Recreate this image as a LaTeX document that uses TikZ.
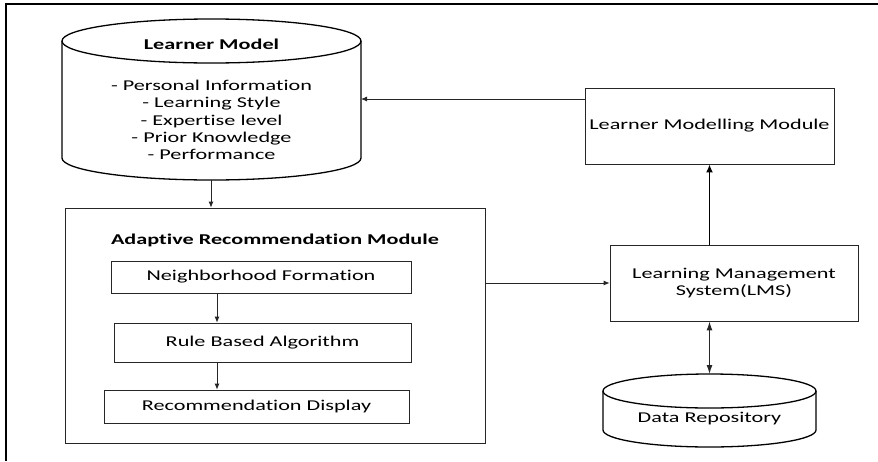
\documentclass[tikz,border=0pt]{standalone}
\usepackage{fontspec}
\setmainfont{Carlito}[FakeStretch=1.48, Ligatures=NoCommon]
\usetikzlibrary{arrows.meta}
\tikzset{
  box/.style={draw=black!85, line width=0.8pt, inner sep=0pt},
  cyl/.style={draw=black, line width=1.3pt},
  link/.style={draw=black!85, line width=0.8pt, -{Latex[length=6pt,width=5pt]}},
  boldlink/.style={draw=black, line width=1.5pt, -{Latex[length=8pt,width=7pt]}},
  dbllink/.style={draw=black!85, line width=1.2pt, {Latex[length=9pt,width=6pt]}-{Latex[length=9pt,width=6pt]}},
  txt/.style={font=\fontsize{15}{17.3}\selectfont, align=center, inner sep=0pt}
}
\begin{document}
\begin{tikzpicture}[x=1pt,y=-1pt]
\useasboundingbox (0,0) rectangle (878,461);
% outer frame
\draw[line width=2.2pt] (6,461) -- (6,4) -- (878,4);

% Learner Model store
\draw[cyl] (211.5,41) ellipse [x radius=149.5, y radius=22];
\draw[cyl] (62,41) -- (62,158) arc[start angle=180, end angle=0, x radius=149.5, y radius=22] -- (361,41);
\node[txt, font=\fontsize{15}{17.3}\selectfont\bfseries] (lmtitle) at (211.5,44) {Learner Model};
\node[txt] (lmitems) at (211.5,120) {- Personal Information\\- Learning Style\\- Expertise level\\- Prior Knowledge\\- Performance};
\coordinate (lmR) at (361,99);
\coordinate (lmB) at (211,180);

% Learner Modelling Module
\node[box, minimum width=249pt, minimum height=76pt, txt] (lmm) at (709.5,126) {Learner Modelling Module};

% Learning Management System
\node[box, minimum width=248pt, minimum height=76pt, txt] (lms) at (734,283) {Learning Management\\System(LMS)};

% Adaptive Recommendation Module
\node[box, minimum width=420pt, minimum height=235pt] (arm) at (275,325.5) {};
\node[txt, font=\fontsize{15}{17.3}\selectfont\bfseries] (armtitle) at (275,240) {Adaptive Recommendation Module};
\node[box, minimum width=300pt, minimum height=32pt, txt] (nf) at (261,277) {Neighborhood Formation};
\node[box, minimum width=297pt, minimum height=39pt, txt] (rb) at (262.5,342.5) {Rule Based Algorithm};
\node[box, minimum width=305pt, minimum height=33pt, txt] (rd) at (256.5,406.5) {Recommendation Display};
\coordinate (ax) at (217,0);

% Data Repository store
\draw[cyl] (709.5,391) ellipse [x radius=106.5, y radius=17];
\draw[cyl] (603,391) -- (603,430) arc[start angle=180, end angle=0, x radius=106.5, y radius=17] -- (816,391);
\node[txt] (drtext) at (709.5,418.5) {Data Repository};
\coordinate (drTop) at (709.5,374);

% connectors
\draw[link] (lmm.west |- lmR) -- (lmR);
\draw[link] (lmB) -- (lmB |- arm.north);
\draw[link] (nf.south -| ax) -- (rb.north -| ax);
\draw[link] (rb.south -| ax) -- (rd.north -| ax);
\draw[link] (arm.east |- lms.west) -- (lms.west);
\draw[boldlink] (lms.north -| lmm.south) -- (lmm.south);
\draw[dbllink] (lms.south -| drTop) -- (drTop);
\end{tikzpicture}
\end{document}
